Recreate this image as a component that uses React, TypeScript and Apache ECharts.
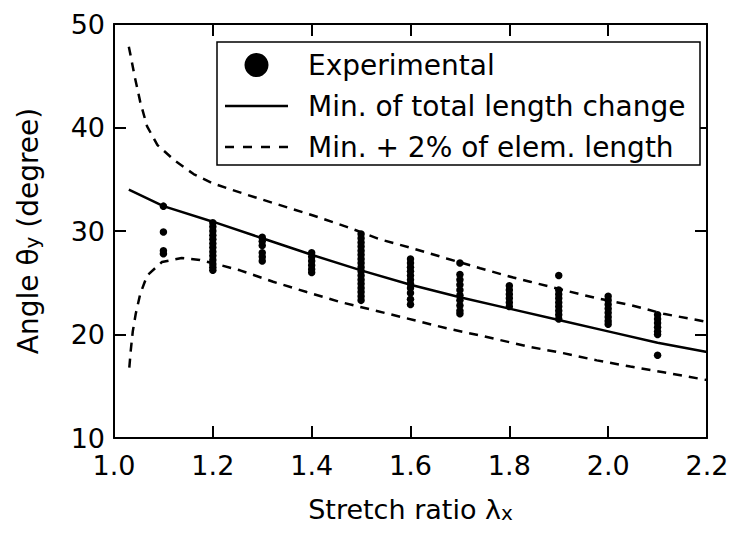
import React, { useEffect, useRef } from "react";
import * as echarts from "echarts";

// ---- data ----
const xMin = 1.0;
const xMax = 2.2;
const xInterval = 0.2;
const yMin = 10;
const yMax = 50;
const yInterval = 10;

const expX = [1.1, 1.2, 1.3, 1.4, 1.5, 1.6, 1.7, 1.8, 1.9, 2.0, 2.1];
const expY: number[][] = [
  [32.4, 29.9, 28.1, 27.8],
  [30.8, 30.4, 30.0, 29.6, 29.2, 28.8, 28.4, 28.0, 27.6, 27.2, 26.8, 26.5, 26.2],
  [29.4, 29.0, 28.6, 27.9, 27.5, 27.1],
  [27.9, 27.5, 27.1, 26.7, 26.3, 26.0],
  [29.7, 29.3, 28.9, 28.5, 28.1, 27.7, 27.3, 26.9, 26.5, 26.1, 25.7, 25.3, 24.9, 24.5, 24.1, 23.7, 23.3],
  [27.3, 26.9, 26.5, 26.1, 25.7, 25.3, 24.9, 24.5, 24.0, 23.4, 22.9],
  [26.9, 25.8, 25.3, 24.8, 24.3, 23.8, 23.3, 22.8, 22.3, 22.0],
  [24.7, 24.3, 23.9, 23.5, 23.1, 22.7],
  [25.7, 24.3, 23.9, 23.5, 23.1, 22.7, 22.3, 21.9, 21.5],
  [23.7, 23.3, 22.9, 22.5, 22.1, 21.7, 21.3, 21.0],
  [21.9, 21.5, 21.1, 20.7, 20.3, 20.0, 18.0],
];

const minX = [1.03, 1.1, 1.2, 1.3, 1.4, 1.5, 1.6, 1.7, 1.8, 1.9, 2.0, 2.1, 2.2];
const minY = [34.0, 32.4, 30.9, 29.3, 27.7, 26.2, 24.8, 23.6, 22.5, 21.4, 20.3, 19.2, 18.3];

const upX = [1.03, 1.033, 1.042, 1.053, 1.067, 1.088, 1.123, 1.161, 1.2, 1.269, 1.336, 1.403, 1.471, 1.538, 1.606, 1.673, 1.741, 1.808, 1.842, 1.909, 1.977, 2.045, 2.112, 2.18, 2.2];
const upY = [47.8, 47.1, 44.9, 42.5, 40.1, 38.3, 36.8, 35.5, 34.6, 33.5, 32.5, 31.5, 30.4, 29.2, 28.3, 27.35, 26.4, 25.5, 25.1, 24.3, 23.5, 22.85, 22.0, 21.4, 21.2];

const lowX = [1.031, 1.034, 1.038, 1.044, 1.053, 1.067, 1.097, 1.137, 1.174, 1.208, 1.255, 1.322, 1.39, 1.457, 1.525, 1.606, 1.673, 1.741, 1.842, 1.909, 1.977, 2.045, 2.112, 2.2];
const lowY = [16.8, 18.5, 20.3, 22.0, 23.9, 25.7, 27.0, 27.4, 27.2, 26.8, 26.2, 25.1, 24.1, 23.15, 22.35, 21.4, 20.6, 19.9, 18.8, 18.2, 17.5, 16.9, 16.35, 15.6];

const legendNames = ["Experimental", "Min. of total length change", "Min. + 2% of elem. length"];
const xTitle = "{b|Stretch ratio λ}{sub|x}";
const yTitle = "{b|Angle θ}{sub|y}{b| (degree)}";

const FONT = "DejaVu Sans";

export default function App() {
  const ref = useRef<HTMLDivElement>(null);
  useEffect(() => {
    if (!ref.current) return;
    document.body.style.margin = "0";
    const chart = echarts.init(ref.current, undefined, { renderer: "svg" });

    const expData: number[][] = [];
    expX.forEach((x, i) => expY[i].forEach((y) => expData.push([x, y])));
    const zip = (xs: number[], ys: number[]) => xs.map((x, i) => [x, ys[i]]);

    const axisLine = { show: true, lineStyle: { color: "#000", width: 2 } };
    const axisTick = { show: true, inside: true, length: 12, lineStyle: { color: "#000", width: 2 } };
    const labelStyle = { color: "#000", fontSize: 27, fontFamily: FONT };
    const rich = (size: number) => ({
      b: { fontSize: size, fontFamily: FONT, color: "#000", lineHeight: size, verticalAlign: "top" },
      sub: { fontSize: 20, fontFamily: FONT, color: "#000", lineHeight: 20, verticalAlign: "bottom", padding: [19, 0, 0, 0] },
    });

    chart.setOption({
      animation: false,
      backgroundColor: "#fff",
      grid: { left: 114, top: 24, right: 28, bottom: 96, containLabel: false, outerBoundsMode: "none" },
      xAxis: [
        {
          type: "value",
          min: xMin,
          max: xMax,
          interval: xInterval,
          position: "bottom",
          axisLine,
          axisTick,
          splitLine: { show: false },
          axisLabel: { ...labelStyle, margin: 14, formatter: (v: number) => v.toFixed(1) },
          name: xTitle,
          nameLocation: "middle",
          nameGap: 55,
          nameTextStyle: { color: "#000", fontSize: 27, fontFamily: FONT, rich: rich(27) },
        },
        {
          type: "value",
          min: xMin,
          max: xMax,
          interval: xInterval,
          position: "top",
          axisLine,
          axisTick,
          splitLine: { show: false },
          axisLabel: { show: false },
        },
      ],
      yAxis: [
        {
          type: "value",
          min: yMin,
          max: yMax,
          interval: yInterval,
          position: "left",
          axisLine,
          axisTick,
          splitLine: { show: false },
          axisLabel: { ...labelStyle, margin: 9 },
          name: yTitle,
          nameLocation: "middle",
          nameGap: 72,
          nameTextStyle: { color: "#000", fontSize: 28, fontFamily: FONT, rich: rich(28) },
        },
        {
          type: "value",
          min: yMin,
          max: yMax,
          interval: yInterval,
          position: "right",
          axisLine,
          axisTick,
          splitLine: { show: false },
          axisLabel: { show: false },
        },
      ],
      graphic: [
        {
          type: "rect",
          z: 3,
          shape: { x: 217, y: 42, width: 483, height: 123 },
          style: { fill: "#fff", stroke: "#000", lineWidth: 1.5 },
        },
      ],
      legend: {
        z: 10,
        left: 225,
        top: 50,
        orient: "vertical",
        padding: 0,
        itemWidth: 63,
        itemHeight: 24,
        itemGap: 11,
        textStyle: { color: "#000", fontSize: 28, fontFamily: FONT, lineHeight: 30, padding: [0, 0, 0, 15] },
        data: [
          { name: legendNames[0], icon: "circle", itemStyle: { color: "#000", opacity: 1 } },
          { name: legendNames[1], icon: "path://M0,0H63V2.6H0Z", itemStyle: { color: "#000" } },
          {
            name: legendNames[2],
            icon: "path://M0,0H9V2.6H0Z M18,0H27V2.6H18Z M36,0H45V2.6H36Z M54,0H63V2.6H54Z",
            itemStyle: { color: "#000" },
          },
        ],
      },
      series: [
        {
          name: legendNames[0],
          type: "scatter",
          data: expData,
          symbol: "circle",
          symbolSize: 7.5,
          itemStyle: { color: "#000", opacity: 1 },
          z: 4,
        },
        {
          name: legendNames[1],
          type: "line",
          data: zip(minX, minY),
          symbol: "none",
          lineStyle: { color: "#000", width: 2.5, type: "solid" },
          itemStyle: { color: "#000" },
        },
        {
          name: legendNames[2],
          type: "line",
          data: zip(upX, upY),
          symbol: "none",
          lineStyle: { color: "#000", width: 2.5, type: [9, 7] },
          itemStyle: { color: "#000" },
        },
        {
          name: legendNames[2],
          type: "line",
          data: zip(lowX, lowY),
          symbol: "none",
          lineStyle: { color: "#000", width: 2.5, type: [9, 7] },
          itemStyle: { color: "#000" },
        },
      ],
    });
    return () => chart.dispose();
  }, []);
  return (
    <div
      ref={ref}
      style={{ position: "fixed", left: 0, top: 0, width: 735, height: 534 }}
    />
  );
}
